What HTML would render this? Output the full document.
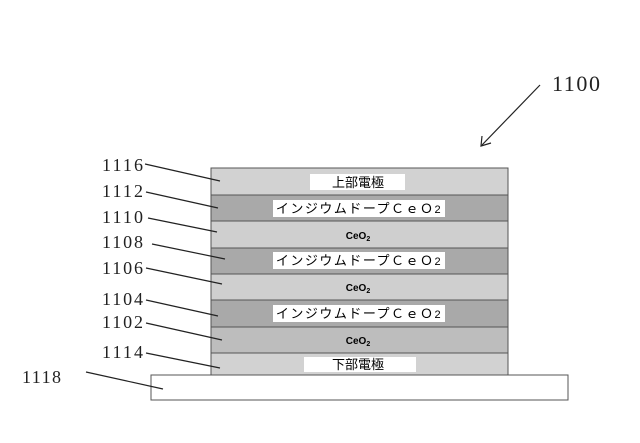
<!DOCTYPE html>
<html><head><meta charset="utf-8"><style>
body{margin:0;background:#fff;}
svg text{font-family:"Liberation Serif","Noto Sans CJK JP",serif;}
</style></head><body>
<svg width="640" height="438" viewBox="0 0 640 438" xmlns="http://www.w3.org/2000/svg">
<g stroke="#555" stroke-width="1">
<rect x="211" y="168" width="297" height="27" fill="#d2d2d2"/>
<rect x="211" y="195" width="297" height="26" fill="#a9a9a9"/>
<rect x="211" y="221" width="297" height="27" fill="#cfcfcf"/>
<rect x="211" y="248" width="297" height="26" fill="#a9a9a9"/>
<rect x="211" y="274" width="297" height="26" fill="#cfcfcf"/>
<rect x="211" y="300" width="297" height="27" fill="#a9a9a9"/>
<rect x="211" y="327" width="297" height="26" fill="#bdbdbd"/>
<rect x="211" y="353" width="297" height="22" fill="#d2d2d2"/>
<rect x="151" y="375" width="417" height="25" fill="#fff"/>
</g>
<g fill="#fff">
<rect x="310" y="174" width="95" height="16"/>
<rect x="273" y="200" width="172" height="17"/>
<rect x="273" y="252" width="172" height="17"/>
<rect x="273" y="305" width="172" height="17"/>
<rect x="304" y="357" width="112" height="15"/>
</g>
<g fill="#000" text-anchor="middle">
<text x="358" y="187" font-size="13" style="font-family:'Noto Sans CJK JP',sans-serif">上部電極</text>
<text x="359" y="213" font-size="13" style="font-family:'Noto Sans CJK JP',sans-serif" letter-spacing="1.5">インジウムドープＣｅＯ<tspan font-size="11" style="font-family:'Liberation Sans',sans-serif">2</tspan></text>
<text x="359" y="265" font-size="13" style="font-family:'Noto Sans CJK JP',sans-serif" letter-spacing="1.5">インジウムドープＣｅＯ<tspan font-size="11" style="font-family:'Liberation Sans',sans-serif">2</tspan></text>
<text x="359" y="318" font-size="13" style="font-family:'Noto Sans CJK JP',sans-serif" letter-spacing="1.5">インジウムドープＣｅＯ<tspan font-size="11" style="font-family:'Liberation Sans',sans-serif">2</tspan></text>
<text x="358" y="369" font-size="13" style="font-family:'Noto Sans CJK JP',sans-serif">下部電極</text>
<text x="358" y="239" font-size="10" font-weight="bold" style="font-family:'Liberation Sans',sans-serif">CeO<tspan font-size="7" dy="2">2</tspan></text>
<text x="358" y="291" font-size="10" font-weight="bold" style="font-family:'Liberation Sans',sans-serif">CeO<tspan font-size="7" dy="2">2</tspan></text>
<text x="358" y="344" font-size="10" font-weight="bold" style="font-family:'Liberation Sans',sans-serif">CeO<tspan font-size="7" dy="2">2</tspan></text>
</g>
<g font-size="18" fill="#222" textLength="40">
<text x="102" y="171" textLength="41">1116</text>
<text x="102" y="197" textLength="41">1112</text>
<text x="102" y="223" textLength="41">1110</text>
<text x="102" y="248" textLength="41">1108</text>
<text x="102" y="274" textLength="41">1106</text>
<text x="102" y="305" textLength="41">1104</text>
<text x="102" y="328" textLength="41">1102</text>
<text x="102" y="358" textLength="41">1114</text>
<text x="22" y="383" textLength="39">1118</text>
<text x="552" y="91" font-size="22" textLength="48">1100</text>
</g>
<g stroke="#222" stroke-width="1.2">
<line x1="145" y1="164" x2="220" y2="181"/>
<line x1="146" y1="192" x2="218" y2="208"/>
<line x1="148" y1="218" x2="217" y2="232"/>
<line x1="152" y1="244" x2="225" y2="259"/>
<line x1="146" y1="268" x2="222" y2="284"/>
<line x1="146" y1="300" x2="218" y2="316"/>
<line x1="146" y1="323" x2="222" y2="340"/>
<line x1="146" y1="353" x2="220" y2="368"/>
<line x1="86" y1="372" x2="163" y2="389"/>
<line x1="540" y1="85" x2="482" y2="145"/>
<polyline points="482,136 481,146 491,143" fill="none"/>
</g>
</svg>
</body></html>
